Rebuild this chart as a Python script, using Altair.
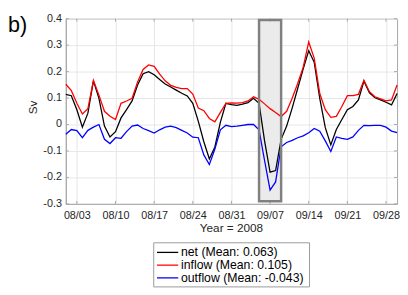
import altair as alt
import pandas as pd

dates = pd.date_range("2008-08-01", "2008-09-30").strftime("%Y-%m-%d").tolist()

net = [0.114, 0.109, 0.056, -0.010, 0.043, 0.165, 0.099, -0.006, -0.047, -0.027,
       0.025, 0.056, 0.089, 0.149, 0.192, 0.200, 0.188, 0.170, 0.153, 0.142,
       0.130, 0.118, 0.108, 0.080, 0.012, -0.065, -0.130, -0.085, 0.009, 0.080,
       0.075, 0.072, 0.077, 0.083, 0.099, 0.080, -0.062, -0.180, -0.174, -0.056,
       -0.006, 0.062, 0.136, 0.210, 0.279, 0.235, 0.099, -0.012, -0.077, -0.019,
       0.019, 0.056, 0.068, 0.093, 0.164, 0.120, 0.101, 0.093, 0.084, 0.074, 0.117]
inflow = [0.152, 0.128, 0.080, 0.040, 0.060, 0.167, 0.111, 0.050, 0.031, 0.019,
          0.080, 0.089, 0.099, 0.161, 0.208, 0.225, 0.220, 0.190, 0.165, 0.148,
          0.140, 0.136, 0.136, 0.115, 0.062, 0.052, 0.023, 0.010, 0.046, 0.080,
          0.082, 0.081, 0.083, 0.089, 0.105, 0.095, 0.078, 0.060, 0.045, 0.030,
          0.050, 0.099, 0.155, 0.217, 0.312, 0.250, 0.117, 0.056, 0.027, 0.031,
          0.068, 0.109, 0.109, 0.114, 0.167, 0.124, 0.105, 0.097, 0.089, 0.093, 0.149]
outflow = [-0.037, -0.019, -0.023, -0.050, -0.022, -0.010, 0.000, -0.056, -0.072, -0.050,
           -0.052, -0.027, -0.006, -0.002, -0.015, -0.023, -0.032, -0.020, -0.010, -0.006,
           -0.012, -0.022, -0.032, -0.048, -0.050, -0.115, -0.151, -0.093, -0.020, -0.003,
           -0.008, -0.006, -0.003, 0.000, 0.000, -0.020, -0.136, -0.248, -0.217, -0.084,
           -0.068, -0.060, -0.050, -0.043, -0.031, -0.015, -0.025, -0.062, -0.102, -0.047,
           -0.052, -0.056, -0.047, -0.022, -0.003, -0.004, -0.003, -0.003, -0.010, -0.025, -0.031]

series_names = ["net", "inflow", "outflow"]
series_colors = ["#000000", "#ff0000", "#0000ff"]
legend_labels = ["net (Mean: 0.063)", "inflow (Mean: 0.105)", "outflow (Mean: -0.043)"]

tick_dates = ["2008-08-03", "2008-08-10", "2008-08-17", "2008-08-24", "2008-08-31",
              "2008-09-07", "2008-09-14", "2008-09-21", "2008-09-28"]
y_ticks = [-0.3, -0.2, -0.1, 0, 0.1, 0.2, 0.3, 0.4]
y_tick_labels = ["-0.3", "-0.2", "-0.1", "0", "0.1", "0.2", "0.3", "0.4"]

highlight_start = ["2008-09-05"]
highlight_end = ["2008-09-09"]
highlight_low = [-0.29]
highlight_high = [0.395]

FONT = "Liberation Sans"
W, H = 338, 189
AXC = "#a6a6a6"

rows = []
for name, vals in zip(series_names, [net, inflow, outflow]):
    for d, v in zip(dates, vals):
        rows.append({"date": d, "value": v, "series": name})
df = pd.DataFrame(rows)

hl = pd.DataFrame({"start": highlight_start, "end": highlight_end,
                   "lo": highlight_low, "hi": highlight_high})
xt = pd.DataFrame({"date": tick_dates})
yt = pd.DataFrame({"value": y_ticks, "label": y_tick_labels})

xscale = alt.Scale(type="utc", domain=[dates[0], dates[-1]])
yscale = alt.Scale(domain=[-0.3, 0.4], nice=False, zero=False)

xaxis = alt.Axis(
    values=[alt.DateTime(year=int(s[:4]), month=int(s[5:7]), date=int(s[8:]), utc=True) for s in tick_dates],
    format="%m/%d", title=None, ticks=False, labelPadding=6, labelOverlap=False,
    labelFont=FONT, labelFontSize=11, labelColor="#262626",
    grid=True, gridColor="#e6e6e6", domainColor=AXC, labelFlush=False,
)
# y axis: grid and domain only; labels are drawn as text marks
yaxis = alt.Axis(
    values=y_ticks, title=None, ticks=False, labels=False,
    grid=True, gridColor="#e6e6e6", domainColor=AXC,
)


def X(field):
    return alt.X(field, scale=xscale, axis=xaxis)


def Y(field):
    return alt.Y(field, scale=yscale, axis=yaxis)


hl_fill = alt.Chart(hl).mark_rect(fill="#ebebeb").encode(
    x=X("start:T"), x2="end:T", y=Y("lo:Q"), y2="hi:Q")

# inward ticks on all four sides
xtick_b = alt.Chart(xt).mark_rule(color=AXC, strokeWidth=1).encode(
    x=X("date:T"), y=alt.value(H), y2=alt.value(H - 3))
xtick_t = alt.Chart(xt).mark_rule(color=AXC, strokeWidth=1).encode(
    x=X("date:T"), y=alt.value(0), y2=alt.value(3))
ytick_l = alt.Chart(yt).mark_rule(color=AXC, strokeWidth=1).encode(
    y=Y("value:Q"), x=alt.value(0), x2=alt.value(3))
ytick_r = alt.Chart(yt).mark_rule(color=AXC, strokeWidth=1).encode(
    y=Y("value:Q"), x=alt.value(W), x2=alt.value(W - 3))
ylabels = alt.Chart(yt).mark_text(font=FONT, fontSize=11, align="right", baseline="middle", color="#262626").encode(
    y=Y("value:Q"), x=alt.value(-4), text="label:N")

lines = alt.Chart(df).mark_line(strokeWidth=1.3).encode(
    x=X("date:T"),
    y=Y("value:Q"),
    color=alt.Color("series:N", scale=alt.Scale(domain=series_names, range=series_colors), legend=None),
    detail="series:N",
)

hl_stroke = alt.Chart(hl).mark_rect(fillOpacity=0, stroke="#808080", strokeWidth=2.5).encode(
    x=X("start:T"), x2="end:T", y=Y("lo:Q"), y2="hi:Q")

layers = [hl_fill, xtick_b, xtick_t, ytick_l, ytick_r, ylabels, lines, hl_stroke]

# panel label and axis titles
layers.append(alt.Chart(hl).mark_text(font=FONT, fontSize=22, align="left", baseline="alphabetic", color="#000").encode(
    x=alt.value(-59), y=alt.value(13.5), text=alt.value("b)")))
layers.append(alt.Chart(hl).mark_text(font=FONT, fontSize=12, angle=270, align="center", baseline="alphabetic", color="#262626").encode(
    x=alt.value(-29.5), y=alt.value(90.5), text=alt.value("Sv")))
layers.append(alt.Chart(hl).mark_text(font=FONT, fontSize=12, align="center", baseline="alphabetic", color="#262626").encode(
    x=alt.value(W / 2), y=alt.value(218), text=alt.value("Year = 2008")))

# custom legend
layers.append(alt.Chart(hl).mark_rect(fill="white", stroke="#999999", strokeWidth=1).encode(
    x=alt.value(89.7), x2=alt.value(248.7), y=alt.value(228.7), y2=alt.value(273.7)))
row_y = [238.5, 251.5, 264.5]
for lab, col, ry in zip(legend_labels, series_colors, row_y):
    layers.append(alt.Chart(hl).mark_rule(color=col, strokeWidth=1.3).encode(
        x=alt.value(93), x2=alt.value(114.7), y=alt.value(ry)))
    layers.append(alt.Chart(hl).mark_text(font=FONT, fontSize=12.5, align="left", baseline="middle", color="#000").encode(
        x=alt.value(117.5), y=alt.value(ry), text=alt.value(lab)))

chart = alt.layer(*layers).properties(
    width=W, height=H,
    autosize=alt.AutoSizeParams(type="none"),
    padding={"left": 59, "top": 8, "right": 3, "bottom": 86},
).configure_view(stroke=AXC, strokeWidth=1)

chart.save("out.html", embed_options={"renderer": "svg", "actions": False})
